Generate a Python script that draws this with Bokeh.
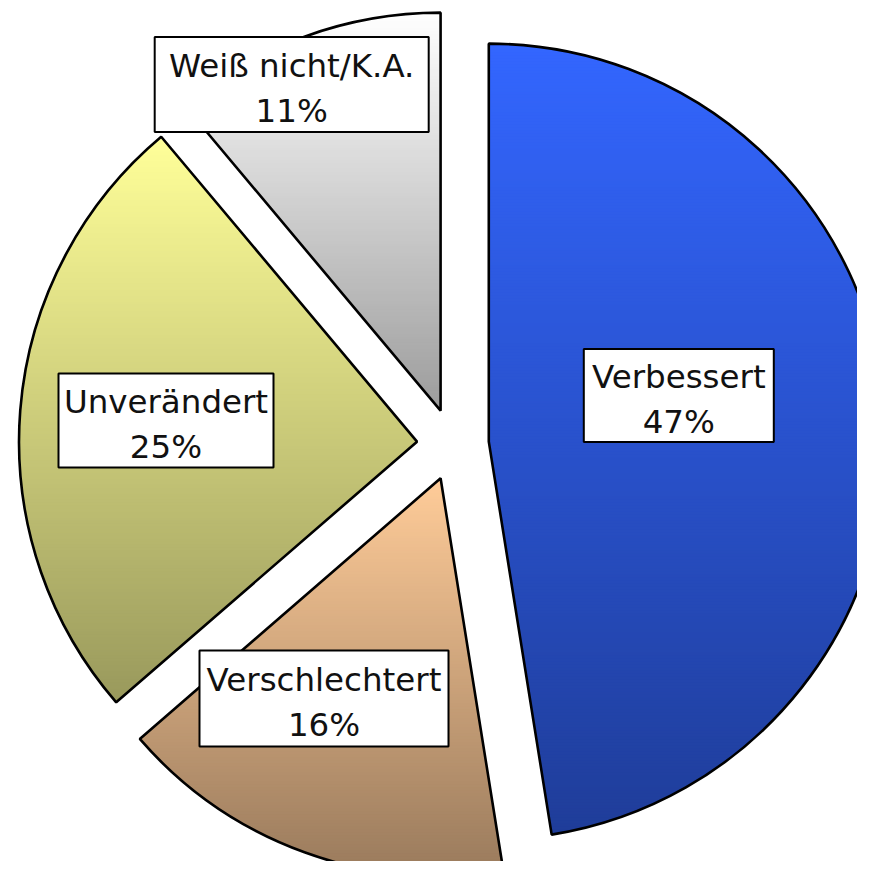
import math
from bokeh.plotting import figure
from bokeh.models import Range1d
from bokeh.core.properties import value
from bokeh.embed import file_html
from bokeh.resources import INLINE

# ---- data ----
categories = ["Verbessert", "Verschlechtert", "Unverändert", "Weiß nicht/K.A."]
percent = [47, 16, 25, 11]
top_colors = ["#3366FF", "#FFCC99", "#FFFF99", "#FFFFFF"]
bottom_colors = ["#1F3D99", "#997A5C", "#99995C", "#9C9C9C"]

# ---- layout (pixel-like data units) ----
CX, CY = 452.4, 433.0      # pie centre
R = 398.0                  # radius
EXPLODE = 36.0             # explosion distance
label_pos = [(678.3, 482.0), (323.5, 179.0), (165.5, 457.0), (291.2, 793.0)]
box_size = [(190, 93), (249, 96), (215, 94), (274, 95)]

p = figure(width=857, height=861, output_backend="svg", toolbar_location=None,
           x_range=Range1d(0, 857), y_range=Range1d(16, 877), min_border=0)
p.axis.visible = False
p.grid.visible = False
p.outline_line_color = None
p.background_fill_color = "white"
p.border_fill_color = "white"


def hex2rgb(h):
    h = h.lstrip("#")
    return tuple(int(h[i:i + 2], 16) for i in (0, 2, 4))


def mix(c0, c1, t):
    a, b = hex2rgb(c0), hex2rgb(c1)
    return "#%02x%02x%02x" % tuple(int(round(a[i] + (b[i] - a[i]) * t)) for i in range(3))


def clip(poly, y, keep_above):
    out = []
    n = len(poly)
    for i in range(n):
        P = poly[i]
        Q = poly[(i + 1) % n]
        inP = P[1] >= y if keep_above else P[1] <= y
        inQ = Q[1] >= y if keep_above else Q[1] <= y
        if inP:
            out.append(P)
        if inP != inQ:
            t = (y - P[1]) / (Q[1] - P[1])
            out.append((P[0] + t * (Q[0] - P[0]), y))
    return out


total = float(sum(percent))
cum = 0.0
strip_xs, strip_ys, strip_cols = [], [], []
w_x, w_y, w_s, w_e = [], [], [], []
for i, pc in enumerate(percent):
    a_end = math.radians(90 - cum / total * 360)
    cum += pc
    a_start = math.radians(90 - cum / total * 360)
    mid = (a_start + a_end) / 2
    vx = CX + EXPLODE * math.cos(mid)
    vy = CY + EXPLODE * math.sin(mid)
    w_x.append(vx); w_y.append(vy); w_s.append(a_start); w_e.append(a_end)
    poly = [(vx, vy)]
    n = 240
    for k in range(n + 1):
        a = a_start + (a_end - a_start) * k / n
        poly.append((vx + R * math.cos(a), vy + R * math.sin(a)))
    ymin = min(q[1] for q in poly)
    ymax = max(q[1] for q in poly)
    step = 3.0
    y = ymax
    while y > ymin:
        y0 = max(y - step - 1.0, ymin)
        part = clip(clip(poly, y0, True), y, False)
        if len(part) >= 3:
            t = (ymax - (y - step / 2)) / (ymax - ymin)
            t = min(max(t, 0.0), 1.0)
            strip_xs.append([q[0] for q in part])
            strip_ys.append([q[1] for q in part])
            strip_cols.append(mix(top_colors[i], bottom_colors[i], t))
        y -= step

p.patches(strip_xs, strip_ys, fill_color=strip_cols, line_color=None)
p.wedge(x=w_x, y=w_y, radius=R, start_angle=w_s, end_angle=w_e,
        fill_color=None, line_color="black", line_width=2.6)

# label boxes
bx = [q[0] for q in label_pos]
by = [q[1] for q in label_pos]
p.rect(x=bx, y=by, width=[b[0] for b in box_size], height=[b[1] for b in box_size],
       fill_color="white", line_color="black", line_width=2)
texts = [f"{c}\n{pc}%" for c, pc in zip(categories, percent)]
p.text(x=bx, y=by, text=texts, text_align="center", text_baseline="middle",
       text_font=value("DejaVu Sans"), text_font_size="32.5px", y_offset=4,
       text_line_height=1.2, text_color="#111111")

open("out.html", "w").write(file_html(p, INLINE))
